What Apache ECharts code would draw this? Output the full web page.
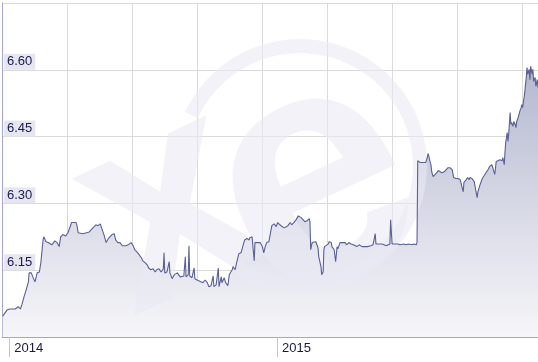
<!DOCTYPE html>
<html><head><meta charset="utf-8">
<script src="https://cdn.jsdelivr.net/npm/echarts@6/dist/echarts.min.js"></script>
<style>html,body{margin:0;padding:0;background:#fff}#c{width:538px;height:362px}</style>
</head><body><div id="c"></div>
<script>
// days since 2014-01-01
const days = [-9,-3,1,8,12,15,17,20,23,26,27,30,32,35,38,41,43,46,47,50,53,55,58,62,65,68,70,73,77,80,83,85,88,91,92,94,96,100,105,109,114,118,121,124,126,129,132,135,137,140,143,145,148,151,154,156,159,162,166,169,171,174,177,180,182,185,188,190,193,196,199,201,204,207,210,211,212,215,218,219,222,225,229,231,233,235,238,240,241,244,245,246,249,252,253,256,259,261,264,267,270,272,275,278,279,282,285,286,289,290,293,295,298,300,302,304,305,308,310,313,316,319,321,324,327,328,331,332,334,335,338,340,342,345,347,349,351,354,358,361,364,366,369,372,375,377,380,383,385,388,391,394,395,398,400,403,406,409,410,411,413,415,418,420,421,422,425,426,428,429,430,432,435,436,439,440,441,443,445,447,448,451,454,455,458,460,463,466,469,471,474,477,478,481,484,485,488,490,493,496,497,499,500,503,505,508,511,514,516,519,520,522,525,527,530,533,535,538,541,544,546,549,552,555,556,557,559,560,561,564,565,568,570,571,572,574,575,576,578,580,583,585,587,590,593,595,598,600,601,604,606,609,612,615,617,619,620,623,625,627,628,631,632,634,636,638,639,642,645,647,650,653,655,658,660,662,664,666,669,672,673,675,676,677,679,680,681,683,684,685,687,688,690,691,692,694,695,696,698,699,700,702,703,705,706,707,709,710,711,713,714,715,717,718,720,721];
const rates = [6.047,6.061,6.063,6.063,6.068,6.063,6.072,6.090,6.106,6.124,6.144,6.144,6.135,6.124,6.144,6.146,6.167,6.218,6.225,6.214,6.212,6.214,6.207,6.216,6.212,6.203,6.225,6.230,6.227,6.234,6.248,6.257,6.257,6.257,6.252,6.234,6.232,6.232,6.234,6.236,6.245,6.252,6.250,6.254,6.252,6.230,6.212,6.221,6.225,6.230,6.232,6.218,6.212,6.212,6.205,6.207,6.205,6.207,6.212,6.205,6.196,6.191,6.185,6.178,6.171,6.167,6.162,6.155,6.151,6.153,6.146,6.151,6.153,6.146,6.153,6.189,6.144,6.146,6.169,6.144,6.131,6.140,6.144,6.144,6.135,6.131,6.137,6.180,6.135,6.140,6.205,6.137,6.133,6.155,6.131,6.128,6.126,6.124,6.122,6.128,6.122,6.113,6.115,6.137,6.113,6.117,6.155,6.113,6.135,6.122,6.133,6.122,6.115,6.140,6.146,6.151,6.158,6.151,6.167,6.187,6.189,6.207,6.218,6.221,6.218,6.223,6.225,6.223,6.171,6.212,6.212,6.212,6.212,6.203,6.189,6.203,6.212,6.214,6.250,6.254,6.248,6.257,6.252,6.248,6.245,6.243,6.250,6.257,6.252,6.257,6.263,6.272,6.275,6.268,6.266,6.259,6.261,6.266,6.259,6.196,6.212,6.212,6.214,6.212,6.200,6.180,6.158,6.140,6.146,6.196,6.203,6.207,6.209,6.214,6.212,6.203,6.205,6.196,6.169,6.203,6.198,6.212,6.212,6.214,6.212,6.207,6.212,6.209,6.207,6.209,6.203,6.207,6.205,6.203,6.203,6.200,6.203,6.205,6.205,6.207,6.209,6.232,6.209,6.209,6.207,6.209,6.207,6.205,6.207,6.209,6.263,6.209,6.209,6.209,6.209,6.207,6.209,6.209,6.207,6.209,6.207,6.207,6.209,6.207,6.212,6.396,6.398,6.392,6.396,6.392,6.396,6.392,6.403,6.412,6.407,6.392,6.387,6.371,6.360,6.360,6.369,6.374,6.371,6.369,6.371,6.369,6.380,6.383,6.380,6.376,6.358,6.356,6.356,6.353,6.349,6.326,6.347,6.353,6.358,6.353,6.358,6.356,6.358,6.349,6.347,6.313,6.326,6.342,6.356,6.360,6.369,6.376,6.383,6.387,6.383,6.365,6.394,6.394,6.398,6.396,6.403,6.387,6.416,6.437,6.459,6.439,6.455,6.504,6.477,6.482,6.473,6.484,6.477,6.470,6.484,6.493,6.495,6.506,6.515,6.522,6.515,6.538,6.551,6.583,6.605,6.590,6.601,6.578,6.608,6.590,6.601,6.574,6.583,6.563,6.578,6.560];
const yearDays = [0, 365];
const yearLabels = ['2014', '2015'];
const yMin = 6.00, yMax = 6.75, yStep = 0.15;

const chart = echarts.init(document.getElementById('c'));
const data = days.map((d, i) => [d, rates[i]]);
const font = 'Liberation Sans, Arial, sans-serif';
const wm = 'rgba(234,234,244,0.6)';
const option = {
  animation: false,
  grid: { left: 2, right: 0, top: 3, bottom: 25 },
  graphic: [
    { type: 'arc', z: 2, silent: true,
      shape: { cx: 300, cy: 166, r: 120, startAngle: 3.58, endAngle: 8.4, clockwise: true },
      style: { stroke: wm, lineWidth: 14, fill: null } },
    { type: 'text', z: 2, silent: true, x: 316, y: 188, rotation: 0.44,
      style: { text: 'e', font: 'bold 335px ' + font, fill: wm, align: 'center', verticalAlign: 'middle' } },
    { type: 'text', z: 2, silent: true, x: 170, y: 212, rotation: 0.44,
      style: { text: 'x', font: 'bold 285px ' + font, fill: wm, align: 'center', verticalAlign: 'middle' } }
  ],
  xAxis: [{
    type: 'value', min: -10, max: 721, position: 'bottom',
    axisLine: { show: true, onZero: false, lineStyle: { color: '#a4a7cb', width: 1 } },
    splitLine: { show: false },
    axisTick: { show: true, customValues: yearDays, length: 20, lineStyle: { color: '#c6c6c6' } },
    axisLabel: { customValues: yearDays, formatter: v => yearLabels[yearDays.indexOf(v)] || '',
      align: 'left', padding: [0, 0, 0, 5], margin: 5, color: '#1a1a40', fontSize: 13, fontFamily: font }
  }, {
    type: 'value', min: 0, max: 536, interval: 65, position: 'bottom',
    axisLine: { show: false }, axisTick: { show: false }, axisLabel: { show: false },
    splitLine: { show: true, lineStyle: { color: '#dadada', width: 1 } }
  }],
  yAxis: {
    type: 'value', min: yMin, max: yMax, interval: yStep,
    axisLine: { show: true, onZero: false, lineStyle: { color: '#a4a7cb', width: 1 } },
    axisTick: { show: false },
    splitLine: { show: true, lineStyle: { color: '#dadada', width: 1 } },
    axisLabel: { inside: true, showMaxLabel: false, verticalAlign: 'bottom', align: 'left',
      formatter: v => v.toFixed(2), backgroundColor: '#e5e6f0', padding: [1, 3, 1, 3], lineHeight: 14,
      color: '#1a1a50', fontSize: 13, margin: 2, fontFamily: font }
  },
  series: [{
    type: 'line', data: data, xAxisIndex: 0, showSymbol: false, symbol: 'none', z: 1,
    lineStyle: { width: 0, opacity: 0 },
    areaStyle: { color: new echarts.graphic.LinearGradient(0, 60, 0, 337, [
      { offset: 0, color: '#b3b7cf' }, { offset: 1, color: '#f6f6f9' }], true), opacity: 1 }
  }, {
    type: 'line', data: data, xAxisIndex: 0, showSymbol: false, symbol: 'none', z: 3,
    lineStyle: { color: '#5a6195', width: 1.1 }
  }]
};
chart.setOption(option);
</script></body></html>
